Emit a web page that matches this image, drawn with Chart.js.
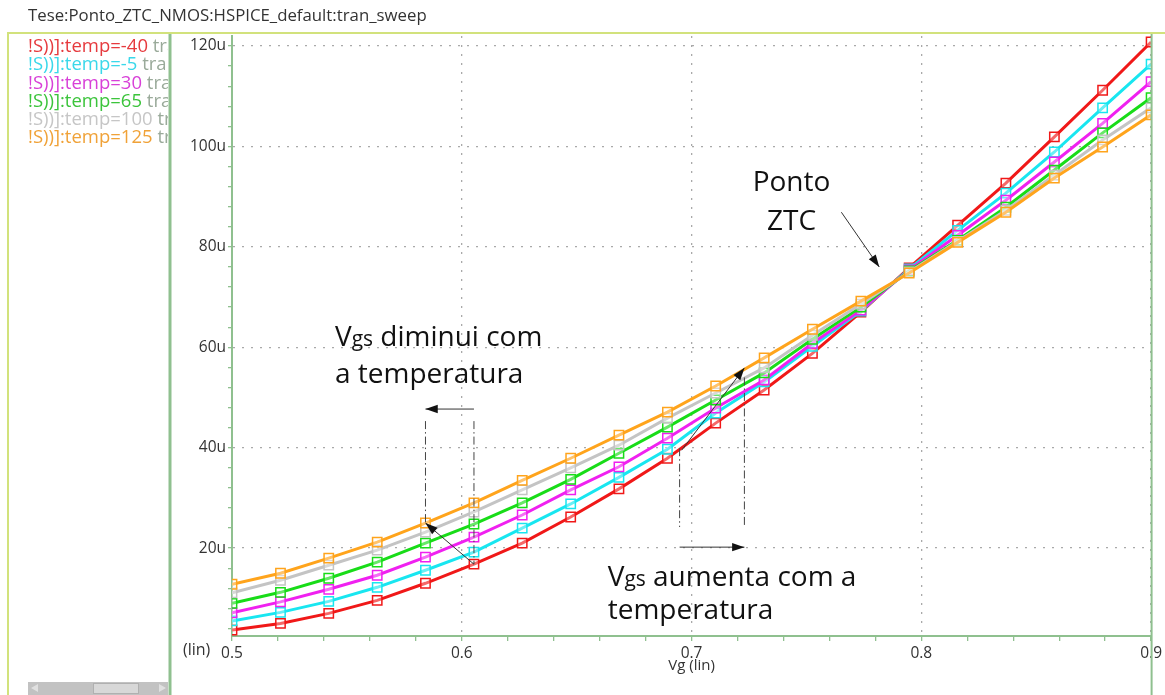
<!DOCTYPE html>
<html>
<head>
<meta charset="utf-8">
<script src="https://cdn.jsdelivr.net/npm/chart.js@4"></script>
<style>
  html, body { margin: 0; padding: 0; background: #fff; }
  #wrap { position: relative; width: 1165px; height: 695px; }
</style>
</head>
<body>
<div id="wrap"><canvas id="chart-ztc"></canvas></div>
<script>
// sweep points of Vg (V)
const VG = [0.5, 0.5211, 0.5421, 0.5632, 0.5842, 0.6053, 0.6263, 0.6474, 0.6684, 0.6895,
            0.7105, 0.7316, 0.7526, 0.7737, 0.7947, 0.8158, 0.8368, 0.8579, 0.8789, 0.9];

// drain current (uA) per temperature
const ID_M40 = [3.7, 5.0, 7.0, 9.6, 13.0, 16.8, 21.0, 26.2, 31.8, 37.9, 44.9, 51.5, 58.8, 67.0, 75.8, 84.3, 92.7, 101.9, 111.2, 120.8];
const ID_M5  = [5.5, 7.2, 9.4, 12.2, 15.6, 19.2, 24.0, 28.8, 34.1, 39.7, 46.9, 53.1, 60.2, 67.2, 75.6, 83.3, 90.7, 98.9, 107.7, 116.4];
const ID_30  = [7.1, 9.3, 11.8, 14.6, 18.2, 22.2, 26.6, 31.6, 36.2, 41.9, 47.9, 53.5, 60.8, 67.4, 75.4, 82.3, 89.3, 96.9, 104.6, 112.9];
const ID_65  = [9.0, 11.2, 14.0, 17.2, 21.0, 24.8, 29.0, 33.7, 38.9, 44.1, 49.5, 54.9, 61.6, 68.0, 75.2, 81.3, 87.9, 95.3, 102.7, 109.7];
const ID_100 = [11.1, 13.6, 16.6, 19.6, 23.2, 27.2, 31.6, 36.0, 40.5, 45.9, 50.9, 55.9, 62.4, 68.6, 75.0, 81.1, 87.3, 94.3, 101.3, 107.7];
const ID_125 = [12.8, 15.0, 18.0, 21.2, 25.0, 29.0, 33.5, 37.9, 42.5, 47.1, 52.3, 57.9, 63.6, 69.2, 74.8, 80.9, 86.9, 93.7, 99.9, 106.3];

const TEMPS = [-40, -5, 30, 65, 100, 125];
const SERIES = [ID_M40, ID_M5, ID_30, ID_65, ID_100, ID_125];
const COLORS = ['#f01818', '#18e6f0', '#f020f0', '#18dc18', '#c4c4c4', '#ffa41c'];
const LEGEND_COLORS = ['#e63a3e', '#3ad8ea', '#d840d8', '#3cc43c', '#c6c6c6', '#f0a238'];

// tick labels
const X_MAJOR = [0.5, 0.6, 0.7, 0.8, 0.9];
const Y_MAJOR = [20, 40, 60, 80, 100, 120];

const FONT = 'Open Sans';
const FRAME_GREEN = '#8fc08f';
const FRAME_YELLOW = '#d2e27c';

const isIn = (list, v) => list.some(m => Math.abs(m - v) < 1e-6);

// ==================== FRAME / LEGEND PANEL ====================

const framePlugin = {
  id: 'frame',
  beforeDraw(chart) {
    const { ctx } = chart;
    ctx.save();
    ctx.fillStyle = '#fff';
    ctx.fillRect(0, 0, chart.width, chart.height);

    // window title
    ctx.fillStyle = '#333';
    ctx.font = `16.8px "${FONT}"`;
    ctx.textBaseline = 'middle';
    ctx.fillText('Tese:Ponto_ZTC_NMOS:HSPICE_default:tran_sweep', 28, 16);

    // yellow frame
    ctx.strokeStyle = FRAME_YELLOW;
    ctx.lineWidth = 2;
    ctx.beginPath();
    ctx.moveTo(8, 695); ctx.lineTo(8, 33); ctx.lineTo(1165, 33);
    ctx.stroke();

    // legend panel divider
    ctx.strokeStyle = FRAME_GREEN;
    ctx.lineWidth = 3;
    ctx.beginPath();
    ctx.moveTo(170, 34); ctx.lineTo(170, 695);
    ctx.stroke();

    // scrollbar
    ctx.fillStyle = '#c2c2c2';
    ctx.fillRect(28, 682, 140, 13);
    ctx.fillStyle = '#d8d8d8';
    ctx.strokeStyle = '#b0b0b0';
    ctx.lineWidth = 1;
    ctx.fillRect(93, 683, 46, 11);
    ctx.strokeRect(93.5, 683.5, 45, 10);
    ctx.fillStyle = '#e0e0e0';
    ctx.beginPath(); ctx.moveTo(31, 688); ctx.lineTo(38, 684); ctx.lineTo(38, 692); ctx.fill();
    ctx.beginPath(); ctx.moveTo(166, 688); ctx.lineTo(159, 684); ctx.lineTo(159, 692); ctx.fill();

    // legend entries (clipped like the panel)
    ctx.save();
    ctx.beginPath();
    ctx.rect(10, 35, 158, 640);
    ctx.clip();
    ctx.font = `18.5px "${FONT}"`;
    ctx.textBaseline = 'middle';
    TEMPS.forEach((t, i) => {
      const y = 47 + i * 18.2;
      const head = `!S))]:temp=${t}`;
      ctx.fillStyle = LEGEND_COLORS[i];
      ctx.fillText(head, 28, y);
      const w = ctx.measureText(head).width;
      ctx.fillStyle = '#9aaa9a';
      ctx.fillText(' tran_sweep', 28 + w, y);
    });
    ctx.restore();

    // "(lin)" marker of the x axis
    ctx.fillStyle = '#333';
    ctx.font = `16px "${FONT}"`;
    ctx.textBaseline = 'middle';
    ctx.fillText('(lin)', 183, 650);
    ctx.restore();
  },
  afterDraw(chart) {
    const { ctx, chartArea } = chart;
    ctx.save();
    ctx.strokeStyle = FRAME_GREEN;
    ctx.lineWidth = 2;
    ctx.beginPath();
    ctx.moveTo(chartArea.right + 0.5, 34);
    ctx.lineTo(chartArea.right + 0.5, 695);
    ctx.stroke();
    ctx.restore();
  }
};

// ==================== ANNOTATIONS ====================

function drawArrow(ctx, x1, y1, x2, y2, head = 13) {
  ctx.beginPath();
  ctx.moveTo(x1, y1);
  ctx.lineTo(x2, y2);
  ctx.stroke();
  const a = Math.atan2(y2 - y1, x2 - x1);
  ctx.beginPath();
  ctx.moveTo(x2, y2);
  ctx.lineTo(x2 - head * Math.cos(a - 0.33), y2 - head * Math.sin(a - 0.33));
  ctx.lineTo(x2 - head * Math.cos(a + 0.33), y2 - head * Math.sin(a + 0.33));
  ctx.closePath();
  ctx.fill();
}

// text with a smaller "gs" after the V, as in V_gs
function drawVgsLine(ctx, rest, x, y) {
  ctx.font = `28px "${FONT}"`;
  ctx.fillText('V', x, y);
  x += ctx.measureText('V').width;
  ctx.font = `21px "${FONT}"`;
  ctx.fillText('gs', x, y);
  x += ctx.measureText('gs').width;
  ctx.font = `28px "${FONT}"`;
  ctx.fillText(rest, x, y);
}

const annotationPlugin = {
  id: 'ztcNotes',
  afterDatasetsDraw(chart) {
    const { ctx } = chart;
    const sx = chart.scales.x, sy = chart.scales.y;
    const X = v => sx.getPixelForValue(v);
    const Y = v => sy.getPixelForValue(v);

    ctx.save();
    ctx.fillStyle = '#111';
    ctx.textBaseline = 'alphabetic';

    // --- Vgs diminui com a temperatura ---
    drawVgsLine(ctx, ' diminui com', X(0.5448), Y(60.2));
    ctx.font = `28px "${FONT}"`;
    ctx.fillText('a temperatura', X(0.5448), Y(52.8));

    ctx.strokeStyle = '#444';
    ctx.lineWidth = 1;
    ctx.setLineDash([8, 3, 1.5, 3]);
    ctx.beginPath();
    ctx.moveTo(X(0.5842), Y(45.3)); ctx.lineTo(X(0.5842), Y(25.0));
    ctx.moveTo(X(0.6053), Y(45.3)); ctx.lineTo(X(0.6053), Y(16.8));
    ctx.stroke();
    ctx.setLineDash([]);
    ctx.strokeStyle = '#333';
    ctx.fillStyle = '#111';
    drawArrow(ctx, X(0.6053), Y(47.7), X(0.5842), Y(47.7));
    drawArrow(ctx, X(0.6053), Y(16.8), X(0.5842), Y(25.0));

    // --- Vgs aumenta com a temperatura ---
    drawVgsLine(ctx, ' aumenta com a', X(0.6635), Y(12.4));
    ctx.font = `28px "${FONT}"`;
    ctx.fillText('temperatura', X(0.6635), Y(5.8));

    ctx.strokeStyle = '#444';
    ctx.setLineDash([8, 3, 1.5, 3]);
    ctx.beginPath();
    ctx.moveTo(X(0.6948), Y(39.9)); ctx.lineTo(X(0.6948), Y(24.2));
    ctx.moveTo(X(0.7230), Y(54.0)); ctx.lineTo(X(0.7230), Y(24.2));
    ctx.stroke();
    ctx.setLineDash([]);
    ctx.strokeStyle = '#333';
    drawArrow(ctx, X(0.6948), Y(20.2), X(0.7230), Y(20.2));
    drawArrow(ctx, X(0.6957), Y(39.5), X(0.7230), Y(55.9));

    // --- Ponto ZTC ---
    ctx.font = `28px "${FONT}"`;
    ctx.textAlign = 'center';
    ctx.fillText('Ponto', X(0.7435), Y(91.2));
    ctx.fillText('ZTC', X(0.7435), Y(83.3));
    drawArrow(ctx, X(0.7652), Y(86.9), X(0.7817), Y(76.0));
    ctx.restore();
  }
};

// ==================== CHART ====================

const datasets = SERIES.map((ys, i) => ({
  label: `temp=${TEMPS[i]}`,
  data: VG.map((x, k) => ({ x, y: ys[k] })),
  borderColor: COLORS[i],
  borderWidth: 3,
  pointStyle: 'rect',
  pointRadius: 6.6,
  pointBorderWidth: 1.5,
  pointBorderColor: COLORS[i],
  pointBackgroundColor: 'rgba(255,255,255,0.35)',
  tension: 0,
  order: SERIES.length - i
}));

new Chart(document.getElementById('chart-ztc'), {
  type: 'line',
  data: { datasets },
  options: {
    responsive: true,
    maintainAspectRatio: false,
    animation: false,
    layout: { padding: { left: 170, right: 12, top: 36, bottom: 0 } },
    plugins: {
      legend: { display: false },
      tooltip: { enabled: false }
    },
    scales: {
      x: {
        type: 'linear',
        min: 0.5,
        max: 0.9,
        afterFit: (s) => { s.height = 59; },
        ticks: {
          stepSize: 0.02,
          autoSkip: false,
          maxRotation: 0,
          padding: 3,
          color: '#333',
          font: { family: FONT, size: 15.5 },
          callback: (v) => isIn(X_MAJOR, v) ? String(v) : ''
        },
        grid: {
          color: (c) => (c.tick && isIn(X_MAJOR, c.tick.value)) ? '#a9a9a9' : 'rgba(0,0,0,0)',
          lineWidth: 1.3,
          tickColor: FRAME_GREEN,
          tickLength: 5,
          tickWidth: 1.3
        },
        border: { color: FRAME_GREEN, width: 2, dash: [2, 7] },
        title: {
          display: true,
          text: 'Vg (lin)',
          color: '#333',
          font: { family: FONT, size: 15 },
          padding: { top: 0, bottom: 20 }
        }
      },
      y: {
        min: 2.5,
        max: 122,
        afterFit: (s) => { s.width = 62; },
        ticks: {
          stepSize: 4,
          includeBounds: false,
          autoSkip: false,
          padding: 2,
          color: '#333',
          font: { family: FONT, size: 15.5 },
          callback: (v) => isIn(Y_MAJOR, v) ? v + 'u' : ''
        },
        grid: {
          color: (c) => (c.tick && isIn(Y_MAJOR, c.tick.value)) ? '#a9a9a9' : 'rgba(0,0,0,0)',
          lineWidth: 1.3,
          tickColor: FRAME_GREEN,
          tickLength: 4,
          tickWidth: 1.3
        },
        border: { color: FRAME_GREEN, width: 2, dash: [2, 7] }
      }
    }
  },
  plugins: [framePlugin, annotationPlugin]
});
</script>
</body>
</html>
